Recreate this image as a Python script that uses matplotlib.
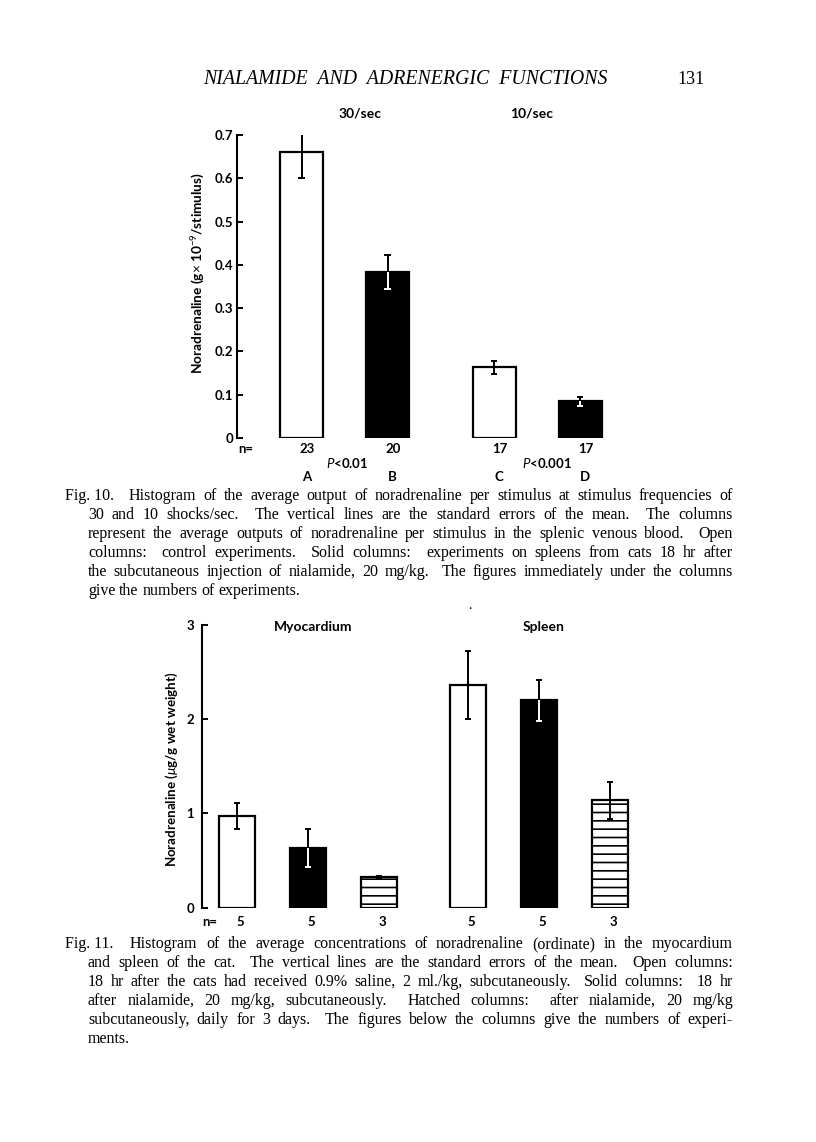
import numpy as np
import matplotlib.pyplot as plt
from matplotlib import transforms

plt.rcParams['font.family'] = ['Lato', 'DejaVu Sans']
plt.rcParams['mathtext.fontset'] = 'custom'
plt.rcParams['mathtext.rm'] = 'Lato'
plt.rcParams['mathtext.it'] = 'Lato:italic'
plt.rcParams['mathtext.bf'] = 'Lato:bold'
plt.rcParams['hatch.linewidth'] = 1.2

# ---------------------------------------------------------
# Data
# ---------------------------------------------------------
# Fig. 10: noradrenaline output per stimulus (g x 1e-9)
f10_groups = ['30/sec', '10/sec']
f10_letters = ['A', 'B', 'C', 'D']
f10_n = [23, 20, 17, 17]
f10_mean = [0.66, 0.383, 0.163, 0.085]
f10_se = [0.06, 0.039, 0.015, 0.01]
f10_solid = [False, True, False, True]
f10_pvals = ['<0.01', '<0.001']

# Fig. 11: noradrenaline concentration (ug/g wet weight)
f11_groups = ['Myocardium', 'Spleen']
f11_n = [5, 5, 3, 5, 5, 3]
f11_mean = [0.975, 0.637, 0.323, 2.36, 2.20, 1.14]
f11_se = [0.136, 0.203, 0.015, 0.36, 0.22, 0.197]
f11_kind = ['open', 'solid', 'hatched', 'open', 'solid', 'hatched']

header = 'NIALAMIDE  AND  ADRENERGIC  FUNCTIONS'
page_no = '131'

cap10 = [
    'Fig.\u00a010. Histogram of the average output of noradrenaline per stimulus at stimulus frequencies of',
    '30 and 10 shocks/sec. The vertical lines are the standard errors of the mean. The columns',
    'represent the average outputs of noradrenaline per stimulus in the splenic venous blood. Open',
    'columns: control experiments. Solid columns: experiments on spleens from cats 18 hr after',
    'the subcutaneous injection of nialamide, 20 mg/kg. The figures immediately under the columns',
    'give the numbers of experiments.',
]
cap11 = [
    'Fig.\u00a011. Histogram of the average concentrations of noradrenaline (ordinate) in the myocardium',
    'and spleen of the cat. The vertical lines are the standard errors of the mean. Open columns:',
    '18 hr after the cats had received 0.9% saline, 2 ml./kg, subcutaneously. Solid columns: 18 hr',
    'after nialamide, 20 mg/kg, subcutaneously. Hatched columns: after nialamide, 20 mg/kg',
    'subcutaneously, daily for 3 days. The figures below the columns give the numbers of experi-',
    'ments.',
]

W, H = 816, 1142
fig = plt.figure(figsize=(W / 100, H / 100), dpi=100)
fig.patch.set_facecolor('white')


def px_axes(left, top, right, bottom):
    return fig.add_axes([left / W, 1 - bottom / H, (right - left) / W, (bottom - top) / H])


def style_axis(ax, ticks, labels, pad):
    for s in ['top', 'right', 'bottom']:
        ax.spines[s].set_visible(False)
    ax.spines['left'].set_linewidth(1.5)
    ax.set_xticks([])
    ax.set_yticks(ticks)
    ax.set_yticklabels(labels, fontsize=9.5, fontweight='bold')
    ax.tick_params(axis='y', direction='in', length=4.5, width=1.4, pad=pad)
    ax.patch.set_alpha(0)


def draw_columns(ax, x, mean, se, faces, hatches, capw):
    mean = np.asarray(mean)
    se = np.asarray(se)
    bars = ax.bar(x, mean, width=0.5, color=faces, edgecolor='black',
                  linewidth=1.6, zorder=2)
    for b, h in zip(bars, hatches):
        if h:
            b.set_hatch(h)
    # error line is white where it runs inside a solid column
    inner = ['white' if f == 'black' else 'black' for f in faces]
    top = mean + se
    low = mean - se
    ax.vlines(x, mean, top, colors='black', lw=1.4, zorder=3)
    ax.hlines(top, x - capw, x + capw, colors='black', lw=1.4, zorder=3)
    ax.vlines(x, low, mean, colors=inner, lw=1.4, zorder=3)
    ax.hlines(low, x - capw, x + capw, colors=inner, lw=1.4, zorder=3)


# ---------------------------------------------------------
# Page header
# ---------------------------------------------------------
fig.text(405 / W, 1 - 79 / H, header, ha='center', va='center',
         family='Liberation Serif', style='italic', fontsize=14.3)
fig.text(691 / W, 1 - 79 / H, page_no, ha='center', va='center',
         family='Liberation Serif', fontsize=13)

# ---------------------------------------------------------
# Fig. 10
# ---------------------------------------------------------
top10, bot10 = 135, 438
ax1 = px_axes(237, top10, 624, bot10)
x10 = np.arange(4) + np.repeat([0, 0.24], 2)
faces10 = ['black' if s else 'white' for s in f10_solid]
draw_columns(ax1, x10, f10_mean, f10_se, faces10, [None] * 4, 0.035)
ax1.set_xlim(-0.75, 3.75)
ax1.set_ylim(0, 0.7)
t10 = [0, 0.1, 0.2, 0.3, 0.4, 0.5, 0.6, 0.7]
style_axis(ax1, t10, ['0'] + [f'{v:.1f}' for v in t10[1:]], 2.5)
ax1.set_ylabel(r'Noradrenaline (g$\times$ 10$^{-9}$/stimulus)', fontsize=9.8,
               fontweight='bold')
ax1.yaxis.set_label_coords(-30 / 387, (bot10 - 273) / (bot10 - top10))

tr1 = transforms.blended_transform_factory(ax1.transData, ax1.transAxes)


def fy10(ypx):
    return (bot10 - ypx) / (bot10 - top10)


for gx, g in zip([0.68, 2.67], f10_groups):
    ax1.text(gx, fy10(113), g, transform=tr1, ha='center', va='center',
             fontsize=10, fontweight='bold')
ax1.text(-0.645, fy10(449), 'n=', transform=tr1, ha='center', va='center',
         fontsize=9.5, fontweight='bold')
for xi, n, let in zip(x10, f10_n, f10_letters):
    ax1.text(xi + 0.07, fy10(449), str(n), transform=tr1, ha='center',
             va='center', fontsize=9.5, fontweight='bold')
    ax1.text(xi + 0.06, fy10(477), let, transform=tr1, ha='center',
             va='center', fontsize=9.5, fontweight='bold')
for gx, p in zip([0.53, 2.85], f10_pvals):
    ax1.text(gx, fy10(463), r'$P$' + p, transform=tr1, ha='center',
             va='center', fontsize=9.5, fontweight='bold')

# ---------------------------------------------------------
# Fig. 11
# ---------------------------------------------------------
top11, bot11 = 625, 907.7
ax2 = px_axes(201.7, top11, 645.5, bot11)
x11 = np.arange(6) + np.repeat([0, 0.25], 3)
faces11 = ['black' if k == 'solid' else 'white' for k in f11_kind]
hatch11 = ['--' if k == 'hatched' else None for k in f11_kind]
draw_columns(ax2, x11, f11_mean, f11_se, faces11, hatch11, 0.04)
ax2.set_xlim(-0.5, 5.75)
ax2.set_ylim(0, 3)
style_axis(ax2, [0, 1, 2, 3], ['0', '1', '2', '3'], 5.5)
ax2.set_ylabel(r'Noradrenaline ($\mu$g/g wet weight)', fontsize=9.6,
               fontweight='bold')
ax2.yaxis.set_label_coords(-22 / 443.8, (bot11 - 769) / (bot11 - top11))

tr2 = transforms.blended_transform_factory(ax2.transData, ax2.transAxes)


def fy11(ypx):
    return (bot11 - ypx) / (bot11 - top11)


for gx, g in zip([1.07, 4.32], f11_groups):
    ax2.text(gx, fy11(627), g, transform=tr2, ha='center', va='center',
             fontsize=10, fontweight='bold')
ax2.text(-0.38, fy11(922), 'n=', transform=tr2, ha='center', va='center',
         fontsize=9.5, fontweight='bold')
for xi, n in zip(x11, f11_n):
    ax2.text(xi + 0.05, fy11(922), str(n), transform=tr2, ha='center',
             va='center', fontsize=9.5, fontweight='bold')

# ---------------------------------------------------------
# Captions (justified like the printed page)
# ---------------------------------------------------------
renderer = fig.canvas.get_renderer()


def caption(lines, y_first, lead, x_first=65, x_indent=88, x_right=733,
            size=11.5):
    for i, line in enumerate(lines):
        ypx = y_first + i * lead
        x0 = x_first if i == 0 else x_indent
        words = line.split(' ')
        txts = [fig.text(0, 1 - ypx / H, w, ha='left', va='baseline',
                         family='Liberation Serif', fontsize=size)
                for w in words]
        widths = [t.get_window_extent(renderer).width for t in txts]
        weights = [2.0 if w[-1] in '.:' else 1.0 for w in words[:-1]]
        if i == len(lines) - 1:
            unit = size * 0.33
        else:
            unit = (x_right - x0 - sum(widths)) / sum(weights)
        x = x0
        for k, t in enumerate(txts):
            t.set_x(x / W)
            x += widths[k]
            if k < len(weights):
                x += unit * weights[k]


caption(cap10, 500, 19)
caption(cap11, 948, 19)

# stray printer's dot between the two figures
fig.text(470 / W, 1 - 605 / H, '.', ha='center', va='center', fontsize=10)

fig.savefig('out.png', dpi=100)
